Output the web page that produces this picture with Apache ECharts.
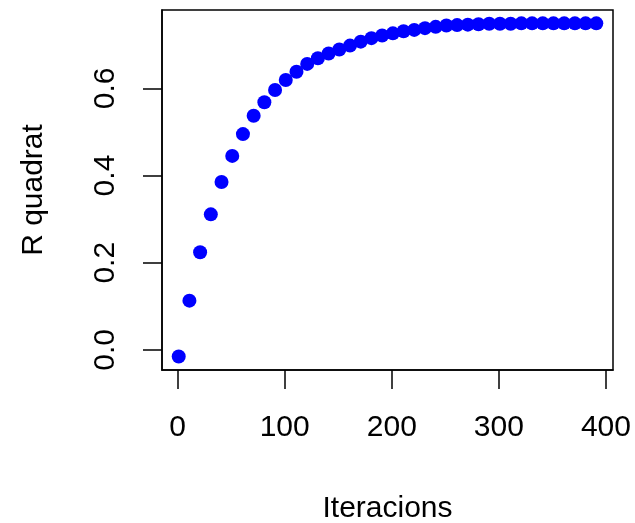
<!DOCTYPE html>
<html>
<head>
<meta charset="utf-8">
<script src="https://cdn.jsdelivr.net/npm/echarts@6/dist/echarts.min.js"></script>
<style>html,body{margin:0;padding:0;background:#fff}#c{width:635px;height:523px}</style>
</head>
<body>
<div id="c"></div>
<script>
const iterations = [1,11,21,31,41,51,61,71,81,91,101,111,121,131,141,151,161,171,181,191,201,211,221,231,241,251,261,271,281,291,301,311,321,331,341,351,361,371,381,391];
const rSquared = [-0.015,0.113,0.224,0.311,0.385,0.445,0.495,0.537,0.568,0.596,0.619,0.638,0.656,0.669,0.680,0.689,0.698,0.707,0.715,0.721,0.726,0.731,0.734,0.738,0.741,0.744,0.745,0.746,0.747,0.748,0.748,0.748,0.749,0.749,0.749,0.749,0.749,0.749,0.749,0.749];
const xTicks = [0,100,200,300,400];
const yTicks = [0,0.2,0.4,0.6];
const xTitle = 'Iteracions';
const yTitle = 'R quadrat';

const points = iterations.map((x,i)=>[x,rSquared[i]]);
const font = 'Liberation Sans, Arial, sans-serif';
const chart = echarts.init(document.getElementById('c'), null, {renderer:'canvas'});
chart.setOption({
  animation:false,
  backgroundColor:'#fff',
  grid:{left:162,right:22,top:10,bottom:153,containLabel:false,outerBoundsMode:'none',show:true,borderColor:'#000',borderWidth:1.5,backgroundColor:'transparent'},
  xAxis:{
    type:'value',min:-14.6,max:406.6,position:'bottom',
    name:xTitle,nameLocation:'middle',nameGap:124,
    nameTextStyle:{fontFamily:font,fontSize:30,color:'#000'},
    axisLine:{show:true,onZero:false,lineStyle:{color:'#000',width:1.5}},
    splitLine:{show:false},
    axisTick:{show:true,inside:false,customValues:xTicks,length:19,lineStyle:{color:'#000',width:1.5}},
    axisLabel:{customValues:xTicks,inside:false,fontFamily:font,fontSize:30,color:'#000',margin:43}
  },
  yAxis:{
    type:'value',min:-0.046,max:0.7796,position:'left',
    name:yTitle,nameLocation:'middle',nameGap:113,nameRotate:90,
    nameTextStyle:{fontFamily:font,fontSize:30,color:'#000'},
    axisLine:{show:true,onZero:false,lineStyle:{color:'#000',width:1.5}},
    splitLine:{show:false},
    axisTick:{show:true,inside:false,customValues:yTicks,length:19,lineStyle:{color:'#000',width:1.5}},
    axisLabel:{customValues:yTicks,inside:false,rotate:90,fontFamily:font,fontSize:30,color:'#000',margin:41,
      formatter:v=>v.toFixed(1)}
  },
  series:[{type:'scatter',data:points,symbol:'circle',symbolSize:14,itemStyle:{color:'#0000FF',opacity:1}}]
});
</script>
</body>
</html>
